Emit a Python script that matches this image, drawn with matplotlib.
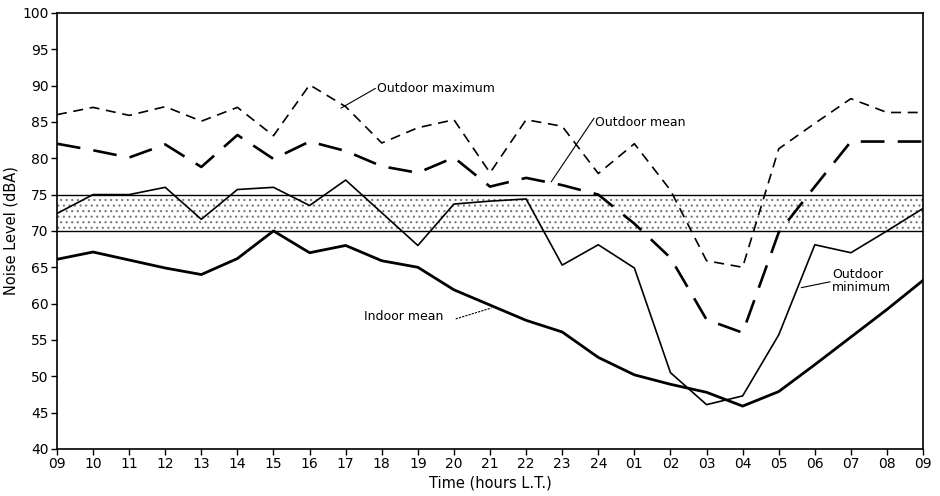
import matplotlib
matplotlib.use("Agg")
import matplotlib.pyplot as plt
import numpy as np

hours = ["09", "10", "11", "12", "13", "14", "15", "16", "17", "18", "19", "20", "21",
         "22", "23", "24", "01", "02", "03", "04", "05", "06", "07", "08", "09"]

outdoor_max = [86.0, 87.0, 85.9, 87.1, 85.1, 87.0, 83.1, 90.1, 87.1, 82.1, 84.2, 85.3, 78.0,
               85.3, 84.4, 77.9, 82.0, 75.6, 65.9, 65.0, 81.3, 84.8, 88.2, 86.3, 86.3]
outdoor_mean = [82.0, 81.1, 80.1, 81.9, 78.8, 83.2, 79.9, 82.3, 81.0, 78.9, 78.0, 80.1, 76.1,
                77.3, 76.3, 75.0, 71.0, 66.3, 57.8, 56.0, 69.8, 76.1, 82.3, 82.3, 82.3]
outdoor_min = [72.4, 75.0, 75.0, 76.0, 71.6, 75.7, 76.0, 73.5, 77.0, 72.5, 68.0, 73.7, 74.1,
               74.4, 65.3, 68.1, 64.9, 50.5, 46.1, 47.3, 55.7, 68.1, 67.0, 70.0, 73.1]
indoor_mean = [66.1, 67.1, 66.0, 64.9, 64.0, 66.2, 70.0, 67.0, 68.0, 65.9, 65.0, 61.9, 59.8,
               57.7, 56.1, 52.6, 50.2, 48.9, 47.8, 45.9, 47.9, 51.6, 55.4, 59.2, 63.2]

band_low, band_high = 70, 75
y_ticks = list(range(40, 101, 5))

plt.rcParams['font.family'] = ['DejaVu Sans']
plt.rcParams['hatch.linewidth'] = 0.8

fig = plt.figure(figsize=(9.4, 4.96), dpi=100)
ax = fig.add_axes([0.0606, 0.0948, 0.9214, 0.8792])

x = np.arange(len(hours))

ax.fill_between([x[0], x[-1]], band_low, band_high, facecolor='white', edgecolor='#777777',
                hatch='...', linewidth=0, zorder=1)
ax.axhline(band_low, color='black', lw=1.0, zorder=2)
ax.axhline(band_high, color='black', lw=1.0, zorder=2)

ax.plot(x, outdoor_max, color='black', lw=1.2, dashes=(6, 4), zorder=3)
ax.plot(x, outdoor_mean, color='black', lw=1.9, dashes=(9, 5), zorder=3)
ax.plot(x, outdoor_min, color='black', lw=1.2, zorder=3)
ax.plot(x, indoor_mean, color='black', lw=2.0, zorder=3)

fs = 9
ax.text(8.86, 89.6, "Outdoor maximum", fontsize=fs, va='center', ha='left')
ax.plot([8.82, 7.87], [89.6, 86.9], color='black', lw=0.8)
ax.text(14.9, 84.9, "Outdoor mean", fontsize=fs, va='center', ha='left')
ax.plot([14.88, 13.7], [85.5, 76.8], color='black', lw=0.8)
ax.text(8.5, 58.2, "Indoor mean", fontsize=fs, va='center', ha='left')
ax.plot([11.05, 12.04], [57.9, 59.4], color='black', lw=0.8, dashes=(2, 1))
ax.text(21.47, 63.1, "Outdoor\nminimum", fontsize=fs, va='center', ha='left', linespacing=1.0)
ax.plot([20.63, 21.42], [62.2, 63.0], color='black', lw=0.8)

ax.set_xlim(0, len(hours) - 1)
ax.set_ylim(40, 100)
ax.set_xticks(x)
ax.set_xticklabels(hours, fontsize=10)
ax.set_yticks(y_ticks)
ax.set_yticklabels([str(v) for v in y_ticks], fontsize=10)
ax.tick_params(direction='out', length=4, width=1.0, pad=2)
for s in ax.spines.values():
    s.set_linewidth(1.2)

ax.set_xlabel("Time (hours L.T.)", fontsize=10.5, labelpad=3)
ax.set_ylabel("Noise Level (dBA)", fontsize=10.5, labelpad=3)

fig.savefig("out.png", dpi=100)
